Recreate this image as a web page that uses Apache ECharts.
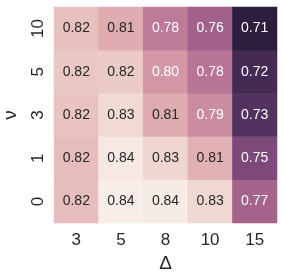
<!DOCTYPE html>
<html><head><meta charset="utf-8">
<script src="https://cdn.jsdelivr.net/npm/echarts@6/dist/echarts.min.js"></script>
<style>html,body{margin:0;padding:0;background:#fff}#c{width:284px;height:278px}</style>
</head><body><div id="c"></div>
<script>
const xCats = ['3','5','8','10','15'];
const yCats = ['0','1','3','5','10'];
// rows by y category (bottom to top), columns by x category
const row0  = [0.816,0.841,0.840,0.830,0.766];
const row1  = [0.816,0.838,0.829,0.810,0.746];
const row3  = [0.819,0.831,0.807,0.790,0.727];
const row5  = [0.821,0.823,0.796,0.776,0.721];
const row10 = [0.818,0.807,0.780,0.764,0.710];
const rows = [row0,row1,row3,row5,row10];

// seaborn-style cubehelix colour ramp (dark -> light)
function cubehelix(x){
  const phi = 2*Math.PI*(0.4*x);
  const a = 0.8*x*(1-x)/2;
  const c = Math.cos(phi), s = Math.sin(phi);
  const r = x + a*(-0.14861*c + 1.78277*s);
  const g = x + a*(-0.29227*c - 0.90649*s);
  const b = x + a*(1.97294*c);
  const h = v => ('0'+Math.round(Math.max(0,Math.min(1,v))*255).toString(16)).slice(-2);
  return '#'+h(r)+h(g)+h(b);
}
const ramp = [];
for(let i=0;i<=20;i++){ ramp.push(cubehelix(0.15 + (0.94-0.15)*i/20)); }

const data = [];
rows.forEach((r,yi)=>r.forEach((v,xi)=>{
  data.push({value:[xi,yi,v],label:{color: v>=0.80 ? '#262626' : '#ffffff'}});
}));
const all = rows.flat();
const chart = echarts.init(document.getElementById('c'));
const font = 'Liberation Sans, Arial, sans-serif';
chart.setOption({
  animation:false,
  grid:{left:54,right:7,top:7,bottom:55,containLabel:false,outerBoundsMode:'none'},
  xAxis:{type:'category',data:xCats,name:'Δ',nameLocation:'middle',nameGap:31,
    nameTextStyle:{fontSize:19,color:'#262626',fontFamily:font},
    axisLine:{show:false},axisTick:{show:false},splitLine:{show:false},
    axisLabel:{fontSize:17,color:'#262626',fontFamily:font,margin:9}},
  yAxis:{type:'category',data:yCats,name:'ν',nameLocation:'middle',nameGap:34,nameRotate:90,
    nameTextStyle:{fontSize:19,color:'#262626',fontFamily:font},
    axisLine:{show:false},axisTick:{show:false},splitLine:{show:false},
    axisLabel:{fontSize:17,color:'#262626',fontFamily:font,rotate:90,margin:16,align:'center',verticalAlign:'middle'}},
  visualMap:{show:false,min:Math.min(...all),max:Math.max(...all),dimension:2,
    inRange:{color:ramp}},
  series:[{type:'heatmap',data:data,
    label:{show:true,fontSize:14,fontFamily:font,formatter:p=>p.value[2].toFixed(2)},
    itemStyle:{borderWidth:0}}]
});
</script></body></html>
